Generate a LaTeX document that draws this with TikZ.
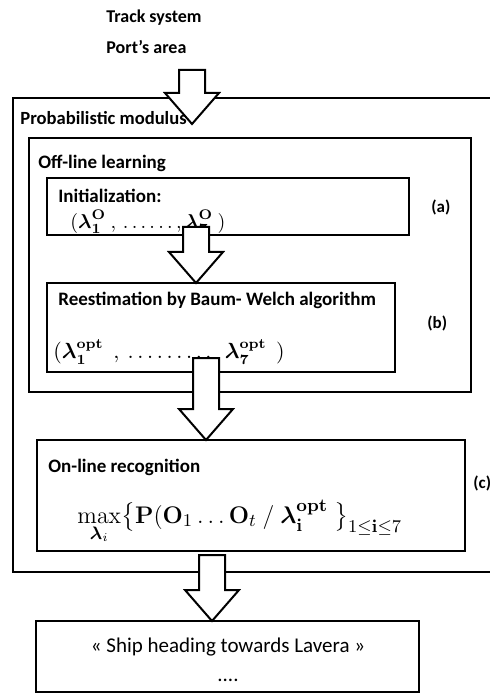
\documentclass[tikz,border=0pt]{standalone}
\usepackage[no-math]{fontspec}
\setmainfont{Carlito}
\usepackage{amsmath}
\usetikzlibrary{calc}

\tikzset{
  box/.style={draw, line width=1pt, rectangle, anchor=north west, inner sep=0pt, outer sep=0pt},
  lbl/.style={anchor=west, inner sep=0pt, font=\bfseries\fontsize{9.5}{11}\selectfont},
  tag/.style={anchor=west, inner sep=0pt, font=\bfseries\fontsize{8.5}{10}\selectfont},
  formula/.style={anchor=west, inner sep=0pt, font=\fontsize{10.5}{12}\selectfont},
  bigarrow/.style={draw, line width=1pt, fill=white, line join=miter},
}
\newcommand{\bigarrow}[2]{%
  \path[bigarrow] let \p1=(#1), \p2=(#2) in
    (\x1-6.5pt,\y1) -- (\x1-6.5pt,\y2+15.5pt) -- (\x1-13.5pt,\y2+15.5pt) -- (\x1,\y2)
    -- (\x1+13.5pt,\y2+15.5pt) -- (\x1+6.5pt,\y2+15.5pt) -- (\x1+6.5pt,\y1) -- cycle;}

\begin{document}
\begin{tikzpicture}[x=0.5pt,y=-0.5pt]
  \useasboundingbox (0,0) rectangle (489,694);

  \node[box, draw=none, minimum width=300pt, minimum height=237pt] (prob) at (13,98) {};
  \draw[line width=1pt] (prob.north east) -- (prob.north west) -- (prob.south west) -- (prob.south east);
  \begin{scope}[every node/.style={box}]
    \node[minimum width=221pt, minimum height=127pt] (offline) at (29,138) {};
    \node[minimum width=181pt, minimum height=28.5pt] (init)   at (47,178) {};
    \node[minimum width=174pt, minimum height=44.5pt] (reest)  at (47,283) {};
    \node[minimum width=214pt, minimum height=55.5pt] (online) at (37,440) {};
    \node[minimum width=191.5pt, minimum height=35.5pt] (out)  at (36,621) {};
  \end{scope}

  \node[lbl, font=\bfseries\fontsize{9}{11}\selectfont] (track) at (106,18) {Track system};
  \node[lbl, font=\bfseries\fontsize{9}{11}\selectfont] (port)  at (106,47) {Port’s area};
  \node[lbl] (offtitle)     at (38,163) {Off-line learning};
  \node[lbl] (inittitle)    at (58,196) {Initialization:};
  \node[lbl] (reesttitle)   at (58,300) {Reestimation by Baum- Welch algorithm};
  \node[lbl] (onlinetitle)  at (48,467) {On-line recognition};
  \node[tag] (taga) at (431,207) {(a)};
  \node[tag] (tagb) at (427,323) {(b)};
  \node[tag] (tagc) at (473,483) {(c)};

  \node[formula, font=\fontsize{10}{12}\selectfont] (initf)  at (70,222)
    {$(\boldsymbol{\lambda}_{\mathbf 1}^{\mathbf O}\ ,\,\ldots\ldots,\boldsymbol{\lambda}_{\mathbf 7}^{\mathbf O}\ )$};
  \node[formula] (reestf) at (53,352)
    {$(\boldsymbol{\lambda}_{\mathbf 1}^{\mathbf{opt}}\ \ ,\ \ldots\ldots\ldots\ \ \boldsymbol{\lambda}_{\mathbf 7}^{\mathbf{opt}}\ \ )$};
  \node[formula, font=\fontsize{13}{15}\selectfont] (onlinef) at (77,522)
    {$\max\limits_{\boldsymbol{\lambda}_i}\bigl\{\mathbf{P}(\mathbf{O}_1\ldots\mathbf{O}_t\ /\ \boldsymbol{\lambda}_{\mathbf i}^{\mathbf{opt}}\ \bigr\}_{1\le\mathbf i\le 7}$};

  \node[inner sep=0pt, font=\fontsize{10.5}{12}\selectfont] (ship) at (228,647) {« Ship heading towards Lavera »};
  \node[inner sep=0pt, font=\fontsize{10.5}{12}\selectfont] (dots) at (228,680) {....};

  \coordinate (a0) at (192,70);
  \coordinate (a0tip) at (192,124);
  \coordinate (a1) at (196,227);
  \coordinate (a2) at (206,358);
  \coordinate (a3) at (212,555);

  \bigarrow{a0}{a0tip}
  \bigarrow{a1}{a1 |- reest.north}
  \bigarrow{a2}{a2 |- online.north}
  \bigarrow{a3}{a3 |- out.north}

  \node[lbl, font=\bfseries\fontsize{9.3}{11}\selectfont] (probtitle) at (20,118) {Probabilistic modulus};

\end{tikzpicture}
\end{document}
